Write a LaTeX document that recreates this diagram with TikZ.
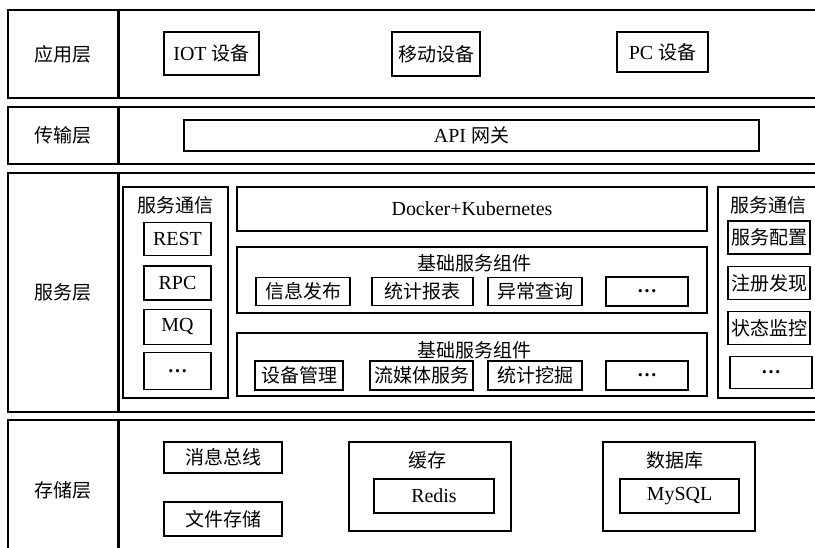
\documentclass[tikz,border=0pt]{standalone}
\usepackage{fontspec}
\setmainfont[Scale=1.05]{Liberation Serif}
\newfontfamily\cjk{Noto Sans CJK SC}
\newcommand{\zh}[1]{{\cjk #1}}

\begin{document}
\begin{tikzpicture}[x=1pt, y=-1pt, node distance=44pt,
  font=\fontsize{19}{22}\selectfont,
  layer/.style={draw, rectangle, line width=1.6pt, minimum width=110pt, inner sep=0pt},
  body/.style={draw, rectangle, line width=1.6pt, minimum width=720pt, anchor=west},
  box/.style={draw, rectangle, line width=1.1pt, inner sep=1pt},
  group/.style={draw, rectangle, line width=1.1pt, inner sep=0pt},
  title/.style={inner sep=0pt}]
  \useasboundingbox (0,0) rectangle (815,548);
  \clip (0,0) rectangle (815,548);

  % layers
  \node[layer, minimum height=88pt] (app) at (63,54) {\zh{应用层}};
  \node[body, minimum height=88pt] (appbody) at (app.east) {};
  \node[layer, minimum height=57pt] (trans) at (63,135.5) {\zh{传输层}};
  \node[body, minimum height=57pt] (transbody) at (trans.east) {};
  \node[layer, minimum height=239pt] (serv) at (63,292.5) {\zh{服务层}};
  \node[body, minimum height=239pt] (servbody) at (serv.east) {};
  \node[layer, minimum height=140pt] (store) at (63,490) {\zh{存储层}};
  \node[body, minimum height=140pt] (storebody) at (store.east) {};

  % application layer
  \node[box, minimum width=95pt, minimum height=43pt] (iot) at (211.5,53.5) {IOT \zh{设备}};
  \node[box, minimum width=88pt, minimum height=44pt] (mobile) at (436,54) {\zh{移动设备}};
  \node[box, minimum width=91pt, minimum height=40pt] (pc) at (662.5,52) {PC \zh{设备}};

  % transport layer
  \node[box, minimum width=575pt, minimum height=31pt] (gateway) at (471.5,135.5) {API \zh{网关}};

  % service layer, left column
  \node[group, minimum width=105pt, minimum height=211pt] (commL) at (175.5,292.5) {};
  \node[title] (commLt) at (175.5,205) {\zh{服务通信}};
  \node[box, minimum width=67pt, minimum height=33pt] (rest) at (177.5,239) {REST};
  \node[box, minimum width=67pt, minimum height=34pt, below of=rest] (rpc) {RPC};
  \node[box, minimum width=67pt, minimum height=35pt, below of=rpc] (mq) {MQ};
  \node[box, minimum width=67pt, minimum height=37pt, below of=mq] (moreL) {\textbf{\ldots}};

  % service layer, middle
  \node[box, minimum width=470pt, minimum height=44pt] (docker) at (472,209) {Docker+Kubernetes};

  \node[group, minimum width=470pt, minimum height=66pt] (base1) at (472,280) {};
  \node[title] (base1t) at (474,263) {\zh{基础服务组件}};
  \node[box, minimum width=94pt, minimum height=28pt] (publish) at (303,291.5) {\zh{信息发布}};
  \node[box, minimum width=101pt, minimum height=28pt] (report) at (422.5,291.5) {\zh{统计报表}};
  \node[box, minimum width=94pt, minimum height=28pt, right of=report, node distance=112.5pt] (query) {\zh{异常查询}};
  \node[box, minimum width=82pt, minimum height=29pt, right of=query, node distance=112pt] (more1) {\textbf{\ldots}};

  \node[group, minimum width=470pt, minimum height=63pt] (base2) at (472,364.5) {};
  \node[title] (base2t) at (474,350) {\zh{基础服务组件}};
  \node[box, minimum width=88pt, minimum height=29pt] (device) at (299,375.5) {\zh{设备管理}};
  \node[box, minimum width=103pt, minimum height=29pt] (media) at (421.5,375.5) {\zh{流媒体服务}};
  \node[box, minimum width=94pt, minimum height=29pt, right of=media, node distance=113.5pt] (mining) {\zh{统计挖掘}};
  \node[box, minimum width=82pt, minimum height=29pt, right of=mining, node distance=112pt] (more2) {\textbf{\ldots}};

  % service layer, right column
  \node[group, minimum width=120pt, minimum height=211pt] (commR) at (778,292.5) {};
  \node[title] (commRt) at (768,205) {\zh{服务通信}};
  \node[box, minimum width=82pt, minimum height=33pt] (config) at (769,237.5) {\zh{服务配置}};
  \node[box, minimum width=82pt, minimum height=33pt, below of=config, node distance=45.5pt] (discover) {\zh{注册发现}};
  \node[box, minimum width=82pt, minimum height=33pt, below of=discover, node distance=45pt] (monitor) {\zh{状态监控}};
  \node[box, minimum width=82pt, minimum height=32pt, below of=monitor, node distance=44.5pt, xshift=2pt] (moreR) {\textbf{\ldots}};

  % storage layer
  \node[box, minimum width=118pt, minimum height=31pt] (bus) at (223,457.5) {\zh{消息总线}};
  \node[box, minimum width=118pt, minimum height=34pt, below of=bus, node distance=61.5pt] (files) {\zh{文件存储}};

  \node[group, minimum width=162pt, minimum height=89pt] (cache) at (430,486.5) {};
  \node[title] (cachet) at (427,460) {\zh{缓存}};
  \node[box, minimum width=120pt, minimum height=34pt] (redis) at (434,496) {Redis};

  \node[group, minimum width=152pt, minimum height=89pt] (db) at (679,486.5) {};
  \node[title] (dbt) at (675,460) {\zh{数据库}};
  \node[box, minimum width=119pt, minimum height=34pt] (mysql) at (679.5,496) {MySQL};
\end{tikzpicture}
\end{document}
